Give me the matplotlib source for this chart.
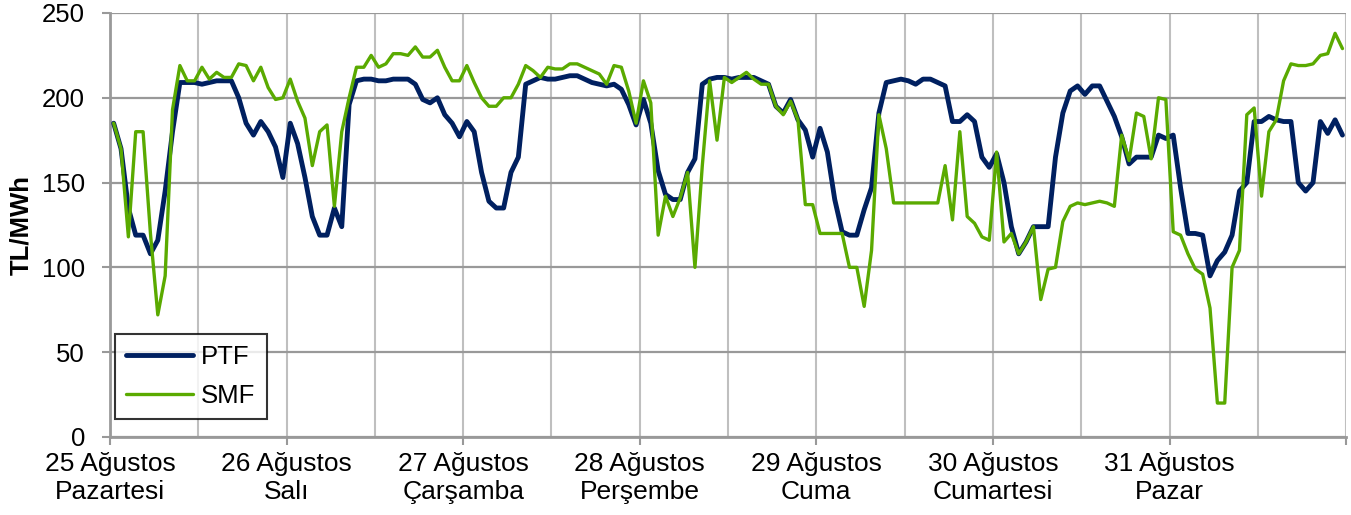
import numpy as np
import matplotlib
matplotlib.use("Agg")
import matplotlib.pyplot as plt

plt.rcParams['font.family'] = ['Liberation Sans', 'DejaVu Sans']

# Hourly values (7 days x 24 hours), TL/MWh
ptf = [
    185, 170, 135, 119, 119, 108, 116, 145, 180, 209, 209, 209, 208, 209, 210, 210, 210, 200, 185, 178, 186, 180, 171, 153,
    185, 173, 153, 130, 119, 119, 135, 124, 196, 210, 211, 211, 210, 210, 211, 211, 211, 208, 199, 197, 200, 190, 185, 177,
    186, 180, 156, 139, 135, 135, 156, 165, 208, 210, 212, 211, 211, 212, 213, 213, 211, 209, 208, 207, 208, 205, 196, 184,
    199, 185, 157, 143, 140, 140, 156, 164, 208, 211, 212, 212, 211, 212, 212, 212, 210, 208, 195, 191, 199, 187, 181, 165,
    182, 168, 140, 121, 119, 119, 134, 147, 191, 209, 210, 211, 210, 208, 211, 211, 209, 207, 186, 186, 190, 186, 165, 159,
    167, 150, 124, 108, 115, 124, 124, 124, 165, 191, 204, 207, 202, 207, 207, 198, 189, 177, 161, 165, 165, 165, 178, 176,
    178, 147, 120, 120, 119, 95, 104, 109, 119, 145, 150, 186, 186, 189, 187, 186, 186, 150, 145, 150, 186, 179, 187, 178,
]
smf = [
    185, 170, 118, 180, 180, 120, 72, 95, 193, 219, 210, 210, 218, 211, 215, 212, 212, 220, 219, 210, 218, 206, 199, 200,
    211, 198, 188, 160, 180, 184, 136, 180, 200, 218, 218, 225, 218, 220, 226, 226, 225, 230, 224, 224, 228, 218, 210, 210,
    219, 209, 200, 195, 195, 200, 200, 208, 219, 216, 212, 218, 217, 217, 220, 220, 218, 216, 214, 208, 219, 218, 204, 185,
    210, 197, 119, 142, 130, 141, 156, 100, 160, 210, 175, 212, 209, 212, 215, 211, 208, 208, 195, 190, 198, 187, 137, 137,
    120, 120, 120, 120, 100, 100, 77, 110, 190, 170, 138, 138, 138, 138, 138, 138, 138, 160, 128, 180, 130, 126, 118, 116,
    168, 115, 120, 108, 115, 124, 81, 99, 100, 127, 136, 138, 137, 138, 139, 138, 136, 178, 163, 191, 189, 164, 200, 199,
    121, 119, 108, 99, 96, 76, 20, 20, 100, 110, 190, 194, 142, 180, 187, 210, 220, 219, 219, 220, 225, 226, 238, 229,
]
day_labels = [
    "25 Ağustos\nPazartesi", "26 Ağustos\nSalı", "27 Ağustos\nÇarşamba",
    "28 Ağustos\nPerşembe", "29 Ağustos\nCuma", "30 Ağustos\nCumartesi",
    "31 Ağustos\nPazar",
]

hours = np.arange(len(ptf))

fig = plt.figure(figsize=(13.51, 5.15), dpi=100)
ax = fig.add_axes([0.0814, 0.1515, 0.915, 0.8233])

ax.plot(hours, ptf, color="#002060", lw=3.5, label="PTF", solid_capstyle="round", zorder=3)
ax.plot(hours, smf, color="#5aaa00", lw=2.4, label="SMF", solid_capstyle="round", zorder=4)

ax.set_xlim(-0.5, 167.5)
ax.set_ylim(0, 250)
ax.set_yticks(np.arange(0, 251, 50))
ax.set_xticks(np.arange(-0.5, 168, 24))
ax.set_xticklabels(day_labels + [""])
ax.set_xticks(np.arange(-0.5, 168, 12), minor=True)

ax.grid(axis="y", color="#999999", lw=1.6)
ax.grid(axis="x", which="both", color="#bfbfbf", lw=1.5)
ax.set_axisbelow(True)

for s in ["top", "right"]:
    ax.spines[s].set_visible(False)
for s in ["left", "bottom"]:
    ax.spines[s].set_color("#999999")
    ax.spines[s].set_linewidth(2)

ax.tick_params(axis="y", labelsize=18.5, length=6, width=1.5, color="#999999", pad=12)
ax.tick_params(axis="x", which="major", labelsize=19, length=6, width=1.5, color="#999999", pad=5)
ax.tick_params(axis="x", which="minor", length=0)

ax.set_ylabel("TL/MWh", fontsize=18.5, fontweight="bold", labelpad=6)

leg = ax.legend(loc="lower left", bbox_to_anchor=(0.004, 0.042), fontsize=18.5,
                frameon=True, fancybox=False, edgecolor="black", handlelength=2.6,
                borderpad=0.45, labelspacing=0.55, handletextpad=0.3, borderaxespad=0)
leg.get_frame().set_linewidth(1.5)

plt.savefig("out.png", dpi=100)
